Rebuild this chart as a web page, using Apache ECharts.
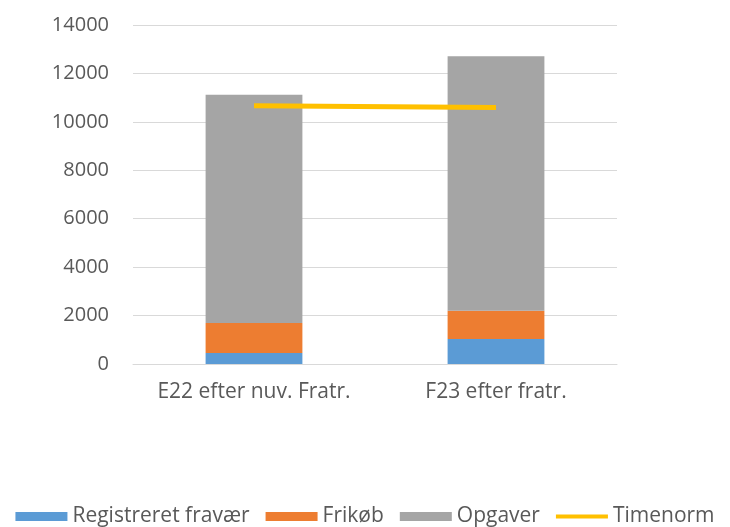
<!DOCTYPE html>
<html><head><meta charset="utf-8">
<script src="https://cdn.jsdelivr.net/npm/echarts@6/dist/echarts.min.js"></script>
<style>html,body{margin:0;padding:0;background:#fff}#c{width:730px;height:527px}</style>
</head><body><div id="c"></div>
<script>
const categories = ['E22 efter nuv. Fratr.', 'F23 efter fratr.'];
const fravaer = [454, 1031];
const frikoeb = [1238, 1168];
const opgaver = [9432, 10509];
const timenorm = [10670, 10588];
const yTicks = {min: 0, max: 14000, interval: 2000};

const font = 'Open Sans, Liberation Sans, sans-serif';
const chart = echarts.init(document.getElementById('c'));
chart.setOption({
  animation: false,
  grid: {left: 133, right: 113, top: 25, bottom: 163},
  xAxis: {
    type: 'category', data: categories,
    axisLine: {lineStyle: {color: '#d9d9d9'}},
    axisTick: {show: false},
    axisLabel: {color: '#595959', fontSize: 21, fontFamily: font, margin: 18, interval: 0}
  },
  yAxis: {
    type: 'value', min: yTicks.min, max: yTicks.max, interval: yTicks.interval,
    axisLine: {show: false}, axisTick: {show: false},
    splitLine: {lineStyle: {color: '#d9d9d9'}},
    axisLabel: {color: '#595959', fontSize: 20, fontFamily: font, margin: 24, formatter: v => String(v)}
  },
  legend: {
    top: 501, left: 'center', itemWidth: 52, itemHeight: 9, itemGap: 16,
    textStyle: {color: '#595959', fontSize: 21, fontFamily: font},
    data: [
      {name: 'Registreret fravær', icon: 'rect'},
      {name: 'Frikøb', icon: 'rect'},
      {name: 'Opgaver', icon: 'rect'},
      {name: 'Timenorm', icon: 'path://M0,0 L52,0 L52,4 L0,4 Z'}
    ]
  },
  series: [
    {name: 'Registreret fravær', type: 'bar', stack: 's', data: fravaer, barWidth: '40%', itemStyle: {color: '#5B9BD5'}},
    {name: 'Frikøb', type: 'bar', stack: 's', data: frikoeb, itemStyle: {color: '#ED7D31'}},
    {name: 'Opgaver', type: 'bar', stack: 's', data: opgaver, itemStyle: {color: '#A5A5A5'}},
    {name: 'Timenorm', type: 'line', data: timenorm, symbol: 'none', lineStyle: {color: '#FFC000', width: 5}, itemStyle: {color: '#FFC000'}}
  ]
});
</script></body></html>
